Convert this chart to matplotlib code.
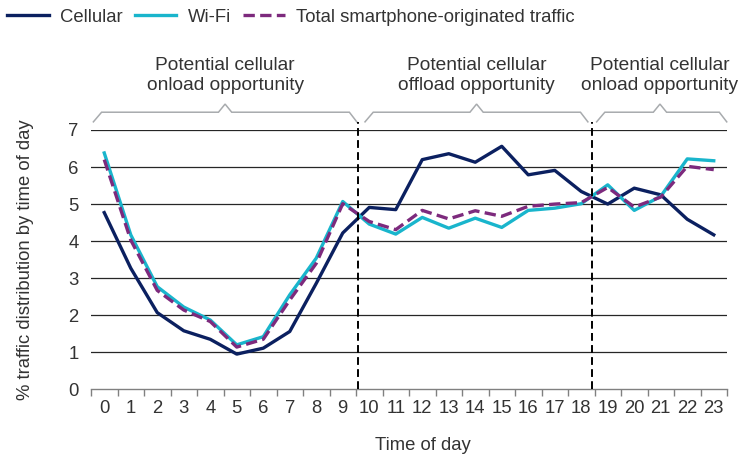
import matplotlib
matplotlib.use("Agg")
import matplotlib.pyplot as plt
from matplotlib.ticker import FixedLocator

plt.rcParams['font.family'] = ['Liberation Sans', 'DejaVu Sans']

hours = list(range(24))
hour_labels = [str(h) for h in hours]
cellular = [4.77, 3.27, 2.07, 1.58, 1.35, 0.95, 1.11, 1.56, 2.86, 4.22,
            4.91, 4.85, 6.20, 6.36, 6.13, 6.56, 5.79, 5.91, 5.34,
            5.00, 5.43, 5.25, 4.59, 4.17]
wifi = [6.38, 4.17, 2.77, 2.22, 1.87, 1.20, 1.42, 2.55, 3.54, 5.07,
        4.46, 4.19, 4.64, 4.35, 4.62, 4.37, 4.83, 4.89, 5.01,
        5.52, 4.83, 5.21, 6.22, 6.17]
total = [6.20, 4.03, 2.67, 2.14, 1.83, 1.14, 1.35, 2.41, 3.40, 5.01,
         4.53, 4.31, 4.83, 4.60, 4.82, 4.67, 4.94, 5.00, 5.04,
         5.45, 4.92, 5.19, 6.02, 5.93]
series_names = ['Cellular', 'Wi-Fi', 'Total smartphone-originated traffic']
period_labels = ['Potential cellular\nonload opportunity',
                 'Potential cellular\noffload opportunity',
                 'Potential cellular\nonload opportunity']
period_spans = [(-0.41, 9.53), (9.84, 18.25), (18.58, 23.49)]
period_peaks = [4.56, 14.05, 20.97]
boundaries = [9.58, 18.40]
yticks = [0, 1, 2, 3, 4, 5, 6, 7]

c_cell = '#0b2060'
c_wifi = '#19b5cc'
c_total = '#7d2a7d'
txt = '#333333'

fig = plt.figure(figsize=(7.42, 4.54), dpi=100)
ax = fig.add_axes([91/742, 64.7/454, 636/742, 259.3/454])

ax.set_xlim(-0.5, 23.5)
ax.set_ylim(0, 7)
for y in yticks[1:]:
    ax.axhline(y, color='#262626', lw=0.9, zorder=1)

l1, = ax.plot(hours, cellular, color=c_cell, lw=2.4, zorder=3, label=series_names[0])
l2, = ax.plot(hours, wifi, color=c_wifi, lw=2.4, zorder=3, label=series_names[1])
l3, = ax.plot(hours, total, color=c_total, lw=2.4, dashes=(3.4, 1.6), zorder=4,
              label=series_names[2])

for b in boundaries:
    ax.plot([b, b], [0, 7.22], color='black', lw=1.4, dashes=(4, 2.2),
            clip_on=False, zorder=5)

bc = '#a8abae'
for (s, e), p, lab in zip(period_spans, period_peaks, period_labels):
    xs = [s, s + 0.31, p - 0.25, p, p + 0.25, e - 0.28, e]
    ys = [7.22, 7.48, 7.48, 7.70, 7.48, 7.48, 7.22]
    ax.plot(xs, ys, color=bc, lw=1.1, clip_on=False, solid_joinstyle='miter')
    ax.text(p, 8.47, lab, ha='center', va='center', fontsize=13.8, color=txt,
            linespacing=1.25)

for s in ['top', 'left', 'right']:
    ax.spines[s].set_visible(False)
ax.spines['bottom'].set_color('#808080')
ax.spines['bottom'].set_linewidth(1.0)

ax.set_xticks(hours)
ax.set_xticklabels(hour_labels)
ax.xaxis.set_minor_locator(FixedLocator([h - 0.5 for h in hours] + [23.5]))
ax.tick_params(axis='x', which='major', length=0, pad=8, labelsize=13.3, labelcolor=txt)
ax.tick_params(axis='x', which='minor', length=5, width=1.0, color='#808080')
ax.set_yticks(yticks)
ax.tick_params(axis='y', length=0, pad=9, labelsize=13.3, labelcolor=txt)

ax.set_xlabel('Time of day', fontsize=13.3, color=txt)
ax.xaxis.set_label_coords((423 - 91) / 636, -(437 - 389.3) / 259.3)
ax.set_ylabel('% traffic distribution by time of day', fontsize=13.3, color=txt)
ax.yaxis.set_label_coords((34 - 91) / 636, 0.5)

fig.legend(handles=[l1, l2, l3], loc='center left', bbox_to_anchor=(7/742, 1 - 17/454),
           ncol=3, frameon=False, fontsize=13.3, handlelength=2.25, handletextpad=0.6,
           columnspacing=0.68, borderpad=0, borderaxespad=0, labelcolor=txt)

fig.savefig('out.png', dpi=100)
